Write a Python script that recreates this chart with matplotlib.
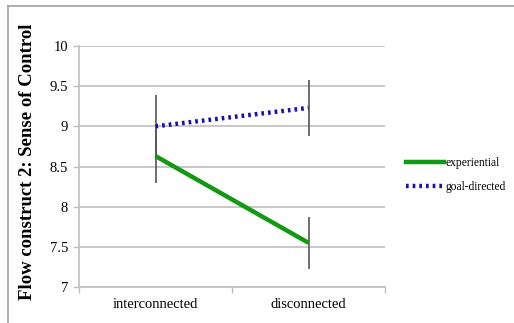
import matplotlib.pyplot as plt
from matplotlib.lines import Line2D

# Data
conditions = ['interconnected', 'disconnected']
experiential = [8.63, 7.55]
experiential_err = [0.34, 0.32]
goal_directed = [9.0, 9.23]
goal_directed_err = [0.39, 0.35]

serif = ['Liberation Serif', 'DejaVu Serif']
grid_gray = '#bfbfbf'

fig = plt.figure(figsize=(5.14, 3.23), dpi=100)
ax = fig.add_axes([79 / 514, 1 - 287 / 323, (385 - 79) / 514, (287 - 46) / 323])

x = list(range(len(conditions)))

# Error bars first, then the lines on top
ax.errorbar(x, experiential, yerr=experiential_err, fmt='none', ecolor='#555555', elinewidth=1.2, capsize=0, zorder=3)
ax.errorbar(x, goal_directed, yerr=goal_directed_err, fmt='none', ecolor='#555555', elinewidth=1.2, capsize=0, zorder=3)
ax.plot(x, experiential, color='#119911', linewidth=3.2, solid_capstyle='butt', zorder=4, label='experiential')
ax.plot(x, goal_directed, color='#1a0fb0', linewidth=3.2, linestyle=(0, (0.6, 0.9)), zorder=4, label='goal-directed')

ax.set_xlim(-0.5, 1.5)
ax.set_ylim(7, 10)
ax.set_yticks([7, 7.5, 8, 8.5, 9, 9.5, 10])
ax.set_yticklabels(['7', '7.5', '8', '8.5', '9', '9.5', '10'], fontfamily=serif, fontsize=10.5)
ax.set_xticks(x)
ax.set_xticklabels(conditions, fontfamily=serif, fontsize=10.5)
ax.tick_params(axis='x', length=0, pad=8)
ax.set_xticks([-0.5, 0.5, 1.5], minor=True)
ax.tick_params(axis='x', which='minor', length=4, color=grid_gray, width=1)
ax.tick_params(axis='y', length=4, color=grid_gray, width=1, pad=4)

ax.yaxis.grid(True, color=grid_gray, linewidth=1.2)
ax.set_axisbelow(True)
for side in ['top', 'right']:
    ax.spines[side].set_visible(False)
for side in ['left', 'bottom']:
    ax.spines[side].set_color(grid_gray)
    ax.spines[side].set_linewidth(1.2)

fig.text(28 / 514, 0.5, 'Flow construct 2: Sense of Control', rotation=90, ha='center', va='center',
         fontfamily=serif, fontsize=13.5, fontweight='bold')

handles = [Line2D([], [], color='#119911', linewidth=3.2),
           Line2D([], [], color='#1a0fb0', linewidth=3.2, linestyle=(0, (0.6, 0.9)))]
fig.legend(handles, ['experiential', 'goal-directed'], loc='center left', bbox_to_anchor=(400 / 514, 1 - 175 / 323),
           frameon=False, prop={'family': serif, 'size': 8.3}, handlelength=3.3, handletextpad=0.15,
           labelspacing=1.0, borderpad=0)

# Frame lines along the top and left edges
fig.add_artist(Line2D([8 / 514, 8 / 514], [0, 1 - 6 / 323], transform=fig.transFigure, color='#a0a0a0', linewidth=1.2))
fig.add_artist(Line2D([8 / 514, 1], [1 - 6 / 323, 1 - 6 / 323], transform=fig.transFigure, color='#a0a0a0', linewidth=1.2))

fig.savefig('out.png', dpi=100)
